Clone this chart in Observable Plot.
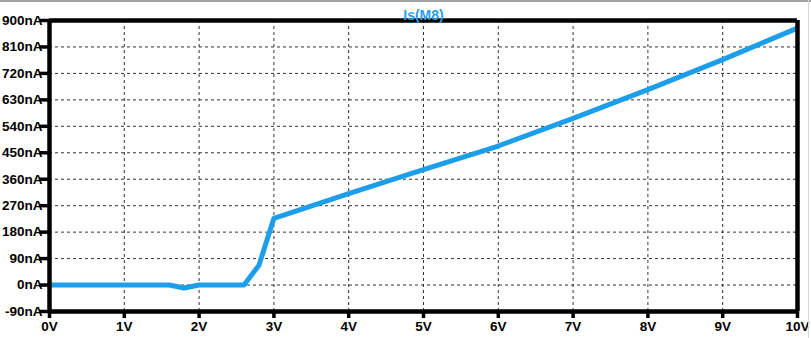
<!DOCTYPE html>
<html>
<head>
<meta charset="utf-8">
<script src="https://cdn.jsdelivr.net/npm/d3@7"></script>
<script src="https://cdn.jsdelivr.net/npm/@observablehq/plot@0.6"></script>
<style>
  html, body { margin: 0; padding: 0; background: #fff; }
  #wrap { position: relative; width: 811px; height: 338px; overflow: hidden; background: #fff; }
  #topbar { position: absolute; left: 0; top: 0; width: 811px; height: 2px; background: #a3a3a3; }
  #rightbar { position: absolute; right: 2px; top: 0; width: 1px; height: 338px; background: #d8d8d8; }
  svg { display: block; }
</style>
</head>
<body>
<div id="wrap"><div id="topbar"></div><div id="rightbar"></div></div>
<script>
// Data (Vgs in V, Is(M8) in nA)
const vgs = [0, 1.6, 1.8, 2.0, 2.6, 2.8, 3.0, 4, 5, 6, 7, 8, 9, 10];
const isM8 = [0, 0, -10, 0, 0, 67, 227, 311, 393, 473, 567, 665, 767, 874];
const xTicks = [0, 1, 2, 3, 4, 5, 6, 7, 8, 9, 10];
const yTicks = [-90, 0, 90, 180, 270, 360, 450, 540, 630, 720, 810, 900];
const xDomain = [0, 10];
const yDomain = [-90, 900];
const title = "Is(M8)";

const data = vgs.map((v, i) => ({v, i: isM8[i]}));
const blue = "#1c9eea";
const font = "'Liberation Sans', Arial, sans-serif";

const chart = Plot.plot({
  width: 811,
  height: 338,
  marginLeft: 49,
  marginRight: 14,
  marginTop: 20,
  marginBottom: 27,
  style: {fontFamily: font, fontSize: "13px", fontWeight: "bold", color: "#000", background: "transparent"},
  x: {domain: xDomain},
  y: {domain: yDomain},
  marks: [
    Plot.gridX(xTicks, {stroke: "#333", strokeOpacity: 1, strokeWidth: 1, strokeDasharray: "3,3"}),
    Plot.gridY(yTicks, {stroke: "#333", strokeOpacity: 1, strokeWidth: 1, strokeDasharray: "3,3"}),
    Plot.line(data, {x: "v", y: "i", stroke: blue, strokeWidth: 5, strokeLinejoin: "round", strokeLinecap: "butt"}),
    Plot.ruleX(xDomain, {stroke: "#000", strokeWidth: 4.5, strokeOpacity: 1}),
    Plot.ruleY(yDomain, {stroke: "#000", strokeWidth: 4.5, strokeOpacity: 1}),
    Plot.axisY(yTicks, {tickSize: 10, tickPadding: -3, strokeWidth: 3.5, stroke: "#000", tickFormat: d => d + "nA", label: null, fill: "#000", fontSize: 13.5, fontWeight: "bold", fontFamily: font}),
    Plot.axisX(xTicks, {tickSize: 7, tickPadding: 3, strokeWidth: 3.5, stroke: "#000", tickFormat: d => d + "V", label: null, fill: "#000", fontSize: 13.5, fontWeight: "bold", fontFamily: font}),
    Plot.text([title], {frameAnchor: "top", dy: -10, text: d => d, fill: "#2a9fe8", fontSize: 14, fontWeight: "bold", fontFamily: font})
  ]
});
document.getElementById("wrap").appendChild(chart);
</script>
</body>
</html>
